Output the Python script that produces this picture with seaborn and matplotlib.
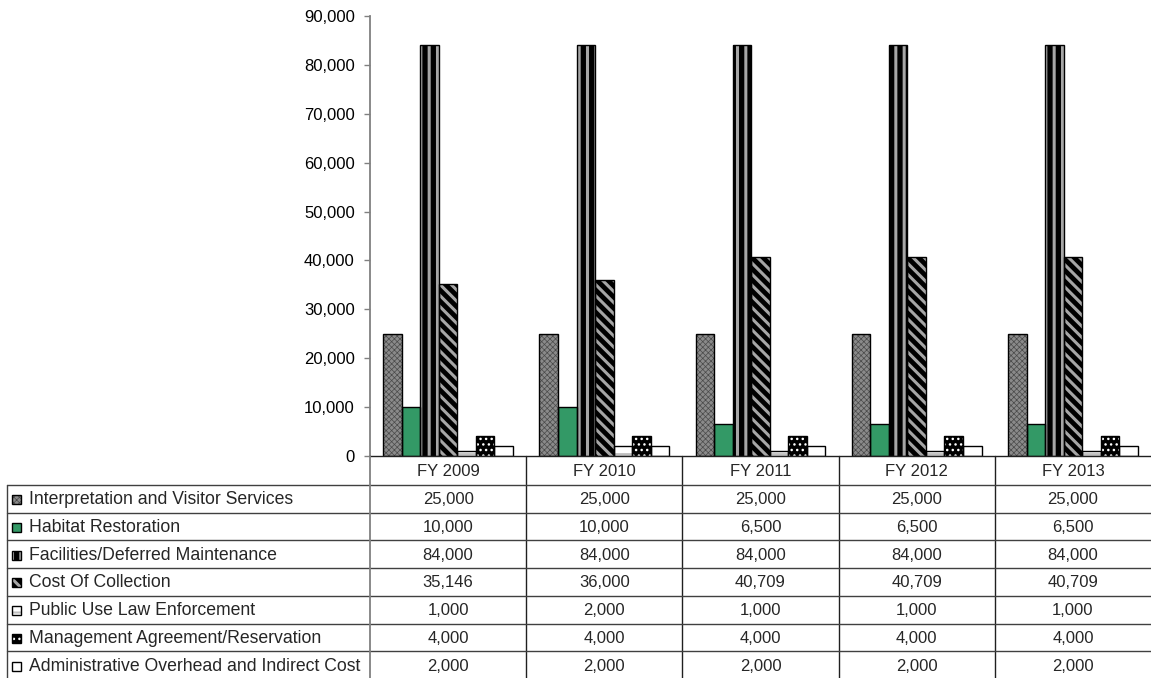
import matplotlib
matplotlib.use("Agg")
import matplotlib.pyplot as plt
from matplotlib.patches import Rectangle
from matplotlib.lines import Line2D
from matplotlib.ticker import FuncFormatter
import seaborn as sns
import pandas as pd

years = ["FY 2009", "FY 2010", "FY 2011", "FY 2012", "FY 2013"]
series = [
    "Interpretation and Visitor Services",
    "Habitat Restoration",
    "Facilities/Deferred Maintenance",
    "Cost Of Collection",
    "Public Use Law Enforcement",
    "Management Agreement/Reservation",
    "Administrative Overhead and Indirect Cost",
]
interpretation = [25000, 25000, 25000, 25000, 25000]
habitat = [10000, 10000, 6500, 6500, 6500]
facilities = [84000, 84000, 84000, 84000, 84000]
collection = [35146, 36000, 40709, 40709, 40709]
law_enforcement = [1000, 2000, 1000, 1000, 1000]
management = [4000, 4000, 4000, 4000, 4000]
admin = [2000, 2000, 2000, 2000, 2000]
values = [interpretation, habitat, facilities, collection, law_enforcement, management, admin]
yticks = [0, 10000, 20000, 30000, 40000, 50000, 60000, 70000, 80000, 90000]

# (face, hatch colour, hatch, hatch linewidth)
styles = [
    ("#8a8a8a", "#4a4a4a", "xxxxxx", 0.5),
    ("#339966", "#339966", None, 1.0),
    ("#000000", "#a6a6a6", "||", 2.2),
    ("#000000", "#a6a6a6", "\\\\\\", 2.2),
    ("#ffffff", "#bfbfbf", "--", 1.5),
    ("#000000", "#ffffff", "...", 1.0),
    ("#ffffff", "#ffffff", None, 1.0),
]

sns.set_theme(style="white")
plt.rcParams["font.family"] = ["Liberation Sans", "DejaVu Sans"]
plt.rcParams["font.size"] = 12
NUM_FS = 12
LEG_FS = 12.7

W, H = 1151, 678
fig = plt.figure(figsize=(W / 100, H / 100), dpi=100)
AX_L, AX_R, AX_T, AX_B = 370, 1151, 16, 456
ax = fig.add_axes([AX_L / W, (H - AX_B) / H, (AX_R - AX_L) / W, (AX_B - AX_T) / H])

df = pd.DataFrame(
    [(y, s, v[i]) for s, v in zip(series, values) for i, y in enumerate(years)],
    columns=["year", "series", "value"],
)
sns.barplot(data=df, x="year", y="value", hue="series", hue_order=series, order=years,
            width=0.83, palette=[s[0] for s in styles], saturation=1, legend=False,
            ax=ax, errorbar=None)


def style_patch(p, st):
    face, hc, hatch, hlw = st
    p.set_facecolor(face)
    p.set_edgecolor(hc)
    p.set_linewidth(0)
    if hatch:
        p.set_hatch(hatch)
        if hasattr(p, "set_hatch_linewidth"):
            p.set_hatch_linewidth(hlw)
        else:
            p._hatch_linewidth = hlw


for cont, st in zip(ax.containers, styles):
    for bar in cont:
        style_patch(bar, st)
        ax.add_patch(Rectangle(bar.get_xy(), bar.get_width(), bar.get_height(),
                               fill=False, edgecolor="black", linewidth=1.0, zorder=bar.get_zorder() + 0.1))

ax.set_ylim(0, 90000)
ax.set_xlim(-0.5, len(years) - 0.5)
ax.set_yticks(yticks)
ax.yaxis.set_major_formatter(FuncFormatter(lambda v, p: f"{int(v):,}"))
ax.set_xticks([])
ax.set_xlabel("")
ax.set_ylabel("")
for sp in ["top", "right"]:
    ax.spines[sp].set_visible(False)
ax.spines["left"].set_color("#808080")
ax.spines["left"].set_linewidth(1.3)
ax.spines["bottom"].set_color("#202020")
ax.spines["bottom"].set_linewidth(1.0)
ax.tick_params(axis="y", left=True, length=4, width=1, color="#808080", labelsize=NUM_FS,
               labelcolor="black", pad=7)

# ---- data table ----
def fx(xp):
    return xp / W

def fy(yp):
    return (H - yp) / H

def ay(yp):
    return (AX_B - yp) / (AX_B - AX_T)

xt = ax.get_xaxis_transform()
header_bottom = 485
row_h = 27.7
row_lines = [header_bottom + row_h * k for k in range(len(series) + 1)]

for yl in row_lines:
    fig.add_artist(Line2D([fx(7), fx(W)], [fy(yl), fy(yl)], color="#404040", linewidth=1.0))
fig.add_artist(Line2D([fx(7), fx(7)], [fy(header_bottom), fy(H)], color="#404040", linewidth=1.0))
fig.add_artist(Line2D([fx(AX_L), fx(AX_L)], [fy(AX_B), fy(H)], color="#808080", linewidth=1.3))
for i in range(len(years) - 1):
    ax.add_artist(Line2D([i + 0.5, i + 0.5], [ay(AX_B), ay(H)], transform=xt,
                         color="#202020", linewidth=1.0, clip_on=False))

for i, y in enumerate(years):
    ax.text(i, ay((AX_B + header_bottom) / 2 + 1), y, transform=xt, ha="center", va="center",
            fontsize=NUM_FS, clip_on=False)

key = 9
for r, (s, v, st) in enumerate(zip(series, values, styles)):
    yc = (row_lines[r] + row_lines[r + 1]) / 2 + 1
    fig.text(fx(29), fy(yc), s, ha="left", va="center", fontsize=LEG_FS)
    kp = Rectangle((fx(12), fy(yc + key / 2)), key / W, key / H, transform=fig.transFigure)
    style_patch(kp, st)
    fig.add_artist(kp)
    fig.add_artist(Rectangle((fx(12), fy(yc + key / 2)), key / W, key / H, transform=fig.transFigure,
                             fill=False, edgecolor="black", linewidth=1.0))
    for i, val in enumerate(v):
        ax.text(i, ay(yc), f"{val:,}", transform=xt, ha="center", va="center",
                fontsize=NUM_FS, clip_on=False)

fig.savefig("out.png", dpi=100)
